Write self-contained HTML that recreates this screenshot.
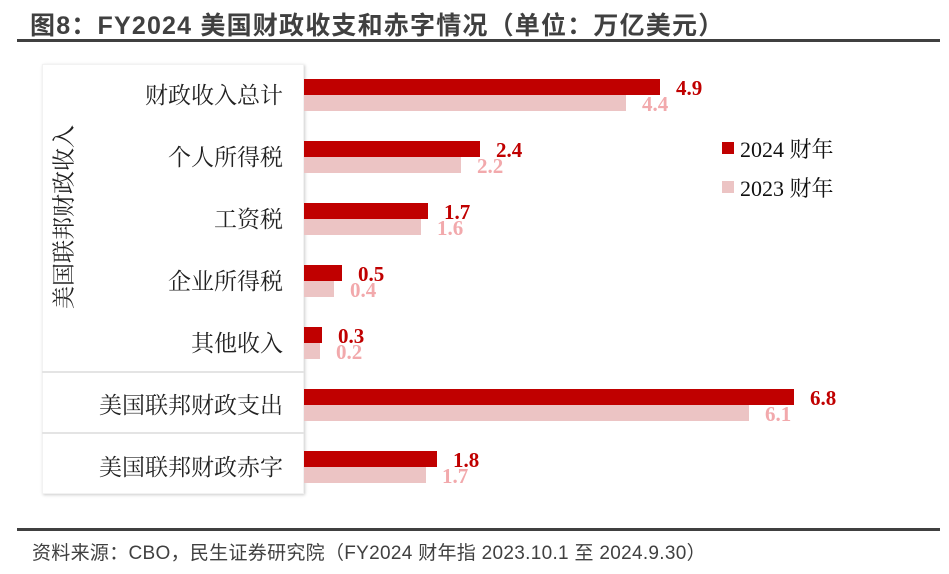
<!DOCTYPE html>
<html><head><meta charset="utf-8"><style>
body{margin:0;width:949px;height:574px;background:#fff;overflow:hidden;position:relative}
.a{position:absolute}
.t{font-family:"Liberation Sans","Noto Sans CJK SC",sans-serif}
.s{font-family:"Liberation Serif","Noto Serif CJK SC",serif}
</style></head><body>
<div class="a t" style="left:30px;top:6px;font-size:25px;letter-spacing:1.2px;font-weight:bold;color:#404040;white-space:nowrap">图8：FY2024 美国财政收支和赤字情况（单位：万亿美元）</div>
<div class="a" style="left:17px;top:39px;width:923px;height:3px;background:#404040"></div>
<div class="a" style="left:42px;top:64px;width:262px;height:430px;background:#fff;box-shadow:1px 1px 3px #ccc;border:1px solid #f2f2f2;box-sizing:border-box"></div>
<div class="a" style="left:42px;top:371px;width:262px;height:2px;background:#e4e4e4"></div>
<div class="a" style="left:42px;top:432px;width:262px;height:2px;background:#e4e4e4"></div>
<div class="a s" style="left:62px;top:217px;font-size:23px;color:#222;white-space:nowrap;transform:translate(-50%,-50%) rotate(-90deg)">美国联邦财政收入</div>
<svg class="a" style="left:0;top:0" width="949" height="574">
<g font-family="Liberation Serif,Noto Serif CJK SC,serif" font-size="23" fill="#222" text-anchor="end">
<text x="283" y="103">财政收入总计</text>
<text x="283" y="165">个人所得税</text>
<text x="283" y="227">工资税</text>
<text x="283" y="289">企业所得税</text>
<text x="283" y="351">其他收入</text>
<text x="283" y="413">美国联邦财政支出</text>
<text x="283" y="475">美国联邦财政赤字</text>
</g>
<g fill="#c00000">
<rect x="304" y="79" width="356" height="16"/>
<rect x="304" y="141" width="176" height="16"/>
<rect x="304" y="203" width="124" height="16"/>
<rect x="304" y="265" width="38" height="16"/>
<rect x="304" y="327" width="18" height="16"/>
<rect x="304" y="389" width="490" height="16"/>
<rect x="304" y="451" width="133" height="16"/>
</g>
<g fill="#ecc4c4">
<rect x="304" y="95" width="322" height="16"/>
<rect x="304" y="157" width="157" height="16"/>
<rect x="304" y="219" width="117" height="16"/>
<rect x="304" y="281" width="30" height="16"/>
<rect x="304" y="343" width="16" height="16"/>
<rect x="304" y="405" width="445" height="16"/>
<rect x="304" y="467" width="122" height="16"/>
</g>
<g font-family="Liberation Serif,serif" font-size="21" font-weight="bold" fill="#c00000">
<text x="676" y="95">4.9</text>
<text x="496" y="157">2.4</text>
<text x="444" y="219">1.7</text>
<text x="358" y="281">0.5</text>
<text x="338" y="343">0.3</text>
<text x="810" y="405">6.8</text>
<text x="453" y="467">1.8</text>
</g>
<g font-family="Liberation Serif,serif" font-size="21" font-weight="bold" fill="#f2a9ac">
<text x="642" y="111">4.4</text>
<text x="477" y="173">2.2</text>
<text x="437" y="235">1.6</text>
<text x="350" y="297">0.4</text>
<text x="336" y="359">0.2</text>
<text x="765" y="421">6.1</text>
<text x="442" y="483">1.7</text>
</g>
<rect x="722" y="142" width="12" height="12" fill="#c00000"/>
<rect x="722" y="181" width="12" height="12" fill="#ecc4c4"/>
<g font-family="Liberation Serif,Noto Serif CJK SC,serif" font-size="22" fill="#111">
<text x="740" y="157">2024 财年</text>
<text x="740" y="196">2023 财年</text>
</g>
</svg>
<div class="a" style="left:17px;top:528px;width:923px;height:3px;background:#404040"></div>
<div class="a t" style="left:32px;top:538px;font-size:19px;letter-spacing:0.3px;color:#404040;white-space:nowrap">资料来源：CBO，民生证券研究院（FY2024 财年指 2023.10.1 至 2024.9.30）</div>
</body></html>
